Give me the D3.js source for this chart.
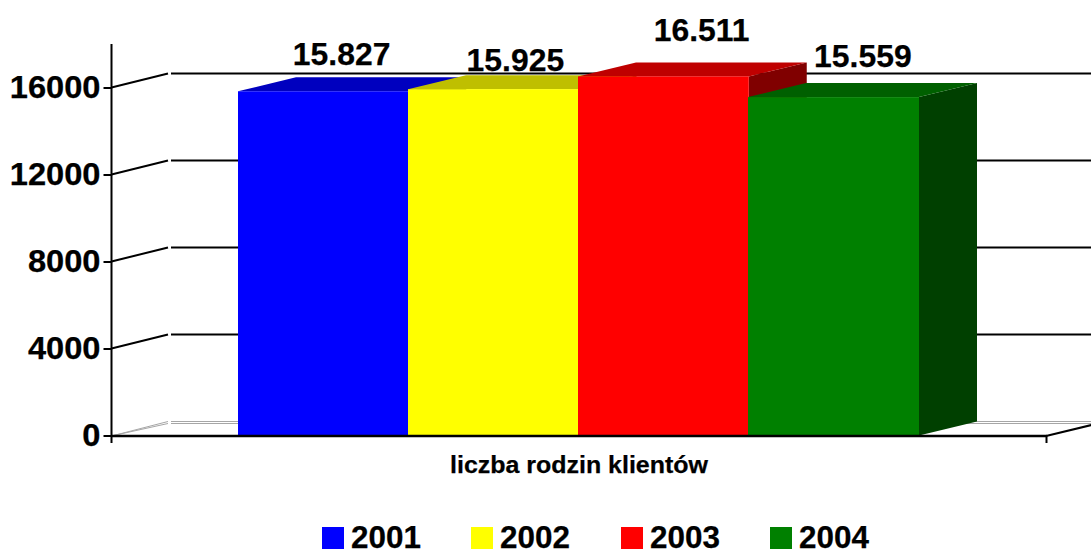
<!DOCTYPE html>
<html><head><meta charset="utf-8">
<style>html,body{margin:0;padding:0;background:#fff}svg{display:block}text{font-family:"Liberation Sans",Arial,sans-serif;font-weight:bold;fill:#000;stroke:#000;stroke-width:.25px}</style>
<script src="https://cdn.jsdelivr.net/npm/d3@7"></script></head><body>
<script>
const years = ["2001","2002","2003","2004"];
const values = [15827,15925,16511,15559];
const valueLabels = ["15.827","15.925","16.511","15.559"];
const yTicks = [0,4000,8000,12000,16000];
const axisTitle = "liczba rodzin klientów";
const frontColors = ["#0000ff","#ffff00","#ff0000","#008000"];
const topColors = ["#0000bf","#bfbf00","#bf0000","#006000"];
const sideColors = ["#000080","#808000","#800000","#004000"];
// label placement relative to the bar centre / bar top
const labelDx = [18.5,22,38,29];
const labelDy = [-26,-18,-35,-30];
const legendX = [322,471,621,770];

const W=1091,H=550, dx=58, dy=14;
const svg=d3.select("body").append("svg").attr("width",W).attr("height",H);
const y=d3.scaleLinear().domain([0,16000]).range([435.5,87.5]);
const x=d3.scaleBand().domain(years).range([238,919]).padding(0);
const axisX=111.5;
// horizontally stretch a text selection by a factor, keeping its anchor
const stretch=(sel,k)=>sel.each(function(){const n=this.getComputedTextLength();
  d3.select(this).attr("textLength",n*k).attr("lengthAdjust","spacingAndGlyphs");});

// floor
const floor=svg.append("g").attr("fill","none").attr("stroke","#a6a6a6").attr("stroke-width",1);
[[0],[2]].forEach(([o])=>{
  floor.append("line").attr("x1",171).attr("x2",W).attr("y1",y(0)-dy+o).attr("y2",y(0)-dy+o);
  floor.append("line").attr("x1",axisX+2).attr("x2",168).attr("y1",y(0)).attr("y2",y(0)-dy+o);
});

// gridlines: back wall + side wall
const grid=svg.append("g").attr("stroke","#000").attr("stroke-width",2);
yTicks.slice(1).forEach(t=>{
  grid.append("line").attr("x1",171).attr("x2",W).attr("y1",y(t)-dy).attr("y2",y(t)-dy);
  grid.append("line").attr("x1",axisX).attr("x2",168).attr("y1",y(t)).attr("y2",y(t)-dy);
});

// bars
const bars=svg.append("g").selectAll("g").data(years).join("g");
bars.each(function(d,i){
  const g=d3.select(this), x0=Math.floor(x(d)), x1=x(d)+x.bandwidth(), yt=y(values[i]), yb=y(0);
  g.append("polygon").attr("fill",sideColors[i]).attr("points",[[x1,yb],[x1+dx,yb-dy],[x1+dx,yt-dy],[x1,yt]].join(" "));
  g.append("polygon").attr("fill",topColors[i]).attr("points",[[x0,yt],[x0+dx,yt-dy],[x1+dx,yt-dy],[x1,yt]].join(" "));
  g.append("rect").attr("fill",frontColors[i]).attr("x",x0).attr("y",yt).attr("width",x1-x0).attr("height",yb-yt);
});

// axes
const yAxis=d3.axisLeft(y).tickValues(yTicks).tickSize(8).tickPadding(3).tickFormat(d3.format("d"));
const ay=svg.append("g").attr("transform",`translate(${axisX},0)`).call(yAxis);
ay.select(".domain").remove();
ay.selectAll(".tick line").attr("stroke","#000").attr("stroke-width",2);
ay.selectAll(".tick text").attr("font-family",null).style("font-size","30.5px").style("font-family",'"Liberation Sans"').style("font-weight","bold").call(stretch,1.07);
svg.append("line").attr("x1",axisX).attr("x2",axisX).attr("y1",44).attr("y2",443).attr("stroke","#000").attr("stroke-width",2);
svg.append("line").attr("x1",axisX).attr("x2",1047).attr("y1",y(0)+.5).attr("y2",y(0)+.5).attr("stroke","#000").attr("stroke-width",2.5);
svg.append("line").attr("x1",1046.5).attr("x2",1046.5).attr("y1",y(0)).attr("y2",443).attr("stroke","#000").attr("stroke-width",2);
svg.append("line").attr("x1",1046).attr("x2",1046+dx).attr("y1",y(0)+.5).attr("y2",y(0)+.5-dy).attr("stroke","#000").attr("stroke-width",2);

// value labels
svg.append("g").selectAll("text").data(valueLabels).join("text")
  .attr("x",(d,i)=>x(years[i])+x.bandwidth()/2+labelDx[i])
  .attr("y",(d,i)=>y(values[i])+labelDy[i])
  .attr("text-anchor","middle").style("font-size","30.5px").text(d=>d).call(stretch,1.045);

svg.append("text").attr("x",579).attr("y",473).attr("text-anchor","middle").style("font-size","24px").text(axisTitle).call(stretch,1.04);

// legend
const lg=svg.append("g").selectAll("g").data(years).join("g").attr("transform",(d,i)=>`translate(${legendX[i]},0)`);
lg.append("rect").attr("y",527).attr("width",22).attr("height",22).attr("fill",(d,i)=>frontColors[i]);
lg.append("text").attr("x",29).attr("y",548).style("font-size","30.5px").text(d=>d).call(stretch,1.03);
</script></body></html>
